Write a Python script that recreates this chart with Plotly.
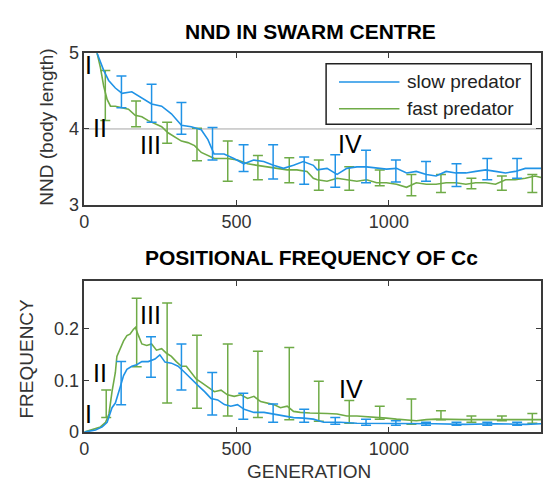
import plotly.graph_objects as go

# ---------------- DATA ----------------
# Top panel: NND in swarm centre
nnd_slow_gen = [10, 42, 64, 80, 102, 124, 156, 189, 221, 254, 286, 319, 351, 384, 406, 426, 459, 491,
                524, 556, 589, 621, 654, 687, 719, 752, 765, 797, 830, 862, 895, 927, 960, 992, 1025,
                1058, 1090, 1123, 1155, 1188, 1220, 1253, 1285, 1318, 1350, 1383, 1415, 1448, 1480, 1500]
nnd_slow = [5.4, 5.0, 4.77, 4.64, 4.54, 4.47, 4.49, 4.41, 4.33, 4.30, 4.20, 4.05, 4.03, 3.99, 3.86, 3.67,
            3.67, 3.61, 3.54, 3.59, 3.57, 3.52, 3.48, 3.52, 3.57, 3.52, 3.46, 3.48, 3.40, 3.48, 3.50,
            3.50, 3.48, 3.47, 3.48, 3.42, 3.44, 3.40, 3.38, 3.44, 3.42, 3.42, 3.44, 3.46, 3.44, 3.42,
            3.44, 3.48, 3.48, 3.48]

nnd_fast_gen = [10, 42, 53, 64, 75, 86, 102, 124, 145, 167, 189, 210, 232, 254, 275, 297, 319, 340, 362,
                384, 405, 427, 449, 470, 503, 536, 568, 601, 633, 666, 698, 731, 752, 765, 797, 830,
                862, 895, 927, 960, 992, 1025, 1058, 1090, 1123, 1155, 1188, 1220, 1253, 1285, 1318,
                1350, 1383, 1415, 1448, 1480, 1500]
nnd_fast = [5.4, 5.0, 4.81, 4.56, 4.39, 4.30, 4.30, 4.28, 4.26, 4.18, 4.16, 4.11, 4.07, 4.03, 3.95, 3.90,
            3.84, 3.82, 3.78, 3.69, 3.65, 3.61, 3.61, 3.61, 3.59, 3.54, 3.52, 3.50, 3.48, 3.46, 3.46,
            3.44, 3.35, 3.33, 3.31, 3.35, 3.33, 3.31, 3.33, 3.29, 3.29, 3.27, 3.23, 3.29, 3.27, 3.27,
            3.29, 3.29, 3.27, 3.29, 3.29, 3.27, 3.33, 3.33, 3.35, 3.38, 3.36]

nnd_slow_err_gen = [122, 221, 319, 421, 523, 620, 722, 824, 925, 1023, 1122, 1222, 1323, 1421]
nnd_slow_err_hi = [4.70, 4.59, 4.35, 4.02, 3.79, 3.79, 3.63, 3.66, 3.72, 3.59, 3.57, 3.54, 3.61, 3.61]
nnd_slow_err_lo = [4.28, 4.09, 3.93, 3.59, 3.44, 3.34, 3.27, 3.23, 3.29, 3.30, 3.31, 3.24, 3.33, 3.35]

nnd_fast_err_gen = [69, 170, 272, 370, 471, 570, 673, 770, 870, 970, 1074, 1171, 1271, 1371, 1471]
nnd_fast_err_hi = [4.77, 4.37, 4.09, 4.01, 3.84, 3.65, 3.62, 3.59, 3.50, 3.46, 3.40, 3.40, 3.35, 3.38, 3.40]
nnd_fast_err_lo = [4.11, 4.03, 3.81, 3.58, 3.31, 3.33, 3.29, 3.19, 3.19, 3.25, 3.12, 3.16, 3.21, 3.19, 3.16]

# Bottom panel: positional frequency of Cc
frq_slow_gen = [0, 10, 37, 59, 75, 91, 102, 118, 129, 140, 156, 172, 189, 210, 232, 248, 265, 286, 308,
                330, 351, 373, 395, 416, 438, 460, 481, 503, 525, 557, 590, 622, 655, 687, 720, 752,
                786, 840, 895, 949, 1003, 1058, 1150, 1250, 1350, 1450, 1500]
frq_slow = [0.0, 0.001, 0.004, 0.010, 0.019, 0.047, 0.056, 0.087, 0.109, 0.121, 0.127, 0.130, 0.136,
            0.136, 0.141, 0.149, 0.135, 0.133, 0.127, 0.115, 0.102, 0.090, 0.078, 0.065, 0.062, 0.053,
            0.050, 0.053, 0.044, 0.038, 0.038, 0.035, 0.031, 0.028, 0.027, 0.025, 0.019, 0.019, 0.017,
            0.017, 0.016, 0.016, 0.016, 0.015, 0.016, 0.015, 0.016]

frq_fast_gen = [0, 10, 37, 53, 70, 81, 91, 97, 102, 107, 118, 129, 140, 150, 161, 168, 178, 189, 205,
                221, 237, 254, 270, 286, 302, 319, 335, 351, 368, 384, 405, 427, 449, 470, 492, 514,
                536, 557, 579, 601, 622, 644, 666, 687, 709, 741, 765, 797, 830, 862, 895, 927, 960,
                992, 1025, 1058, 1090, 1123, 1155, 1250, 1350, 1450, 1500]
frq_fast = [0.0, 0.002, 0.007, 0.010, 0.019, 0.035, 0.078, 0.099, 0.115, 0.146, 0.161, 0.176, 0.186,
            0.189, 0.198, 0.202, 0.186, 0.170, 0.167, 0.170, 0.158, 0.161, 0.152, 0.146, 0.136, 0.127,
            0.127, 0.115, 0.102, 0.096, 0.087, 0.078, 0.081, 0.072, 0.069, 0.072, 0.065, 0.069, 0.059,
            0.056, 0.053, 0.047, 0.050, 0.040, 0.038, 0.037, 0.037, 0.036, 0.035, 0.031, 0.031, 0.030,
            0.028, 0.027, 0.025, 0.024, 0.022, 0.024, 0.025, 0.024, 0.024, 0.023, 0.024]

frq_slow_err_gen = [121, 219, 319, 420, 522, 620, 722, 824, 925, 1023, 1122, 1222, 1323, 1421]
frq_slow_err_hi = [0.136, 0.184, 0.170, 0.115, 0.075, 0.054, 0.044, 0.028, 0.025, 0.022, 0.019, 0.019, 0.019, 0.019]
frq_slow_err_lo = [0.053, 0.106, 0.081, 0.033, 0.025, 0.019, 0.019, 0.015, 0.013, 0.013, 0.013, 0.013, 0.013, 0.013]

frq_fast_err_gen = [72, 172, 272, 370, 471, 570, 673, 770, 870, 970, 1074, 1171, 1271, 1371, 1471]
frq_fast_err_hi = [0.081, 0.258, 0.249, 0.187, 0.170, 0.156, 0.163, 0.098, 0.061, 0.050, 0.064, 0.041, 0.031, 0.031, 0.036]
frq_fast_err_lo = [0.028, 0.126, 0.056, 0.046, 0.031, 0.028, 0.024, 0.021, 0.017, 0.025, 0.015, 0.024, 0.019, 0.022, 0.017]

x_ticks = [0, 500, 1000, 1500]
nnd_ticks = [3, 4, 5]
frq_ticks = [0, 0.1, 0.2]
frq_tick_labels = ["0", "0.1", "0.2"]

series_names = ["slow predator", "fast predator"]
titles = ["NND IN SWARM CENTRE", "POSITIONAL FREQUENCY OF Cc"]

# ---------------- STYLE ----------------
BLUE = "#2093e6"
GREEN = "#6fab47"
AX = "#3a3a3a"
FONT = "Arial, Liberation Sans, sans-serif"
W, H = 560, 492

fig = go.Figure()


def err_trace(gen, hi, lo, color, xa, ya):
    mid = [(a + b) / 2 for a, b in zip(hi, lo)]
    half = [(a - b) / 2 for a, b in zip(hi, lo)]
    return go.Scatter(x=gen, y=mid, mode="markers", marker=dict(size=2, opacity=0, color=color),
                      error_y=dict(type="data", array=half, symmetric=True, color=color,
                                   thickness=1.5, width=5),
                      xaxis=xa, yaxis=ya, showlegend=False, hoverinfo="skip")


def line_trace(gen, val, color, xa, ya, name):
    return go.Scatter(x=gen, y=val, mode="lines", line=dict(color=color, width=1.6),
                      xaxis=xa, yaxis=ya, name=name, showlegend=False)


# top panel (x, y)
fig.add_trace(err_trace(nnd_fast_err_gen, nnd_fast_err_hi, nnd_fast_err_lo, GREEN, "x", "y"))
fig.add_trace(line_trace(nnd_fast_gen, nnd_fast, GREEN, "x", "y", series_names[1]))
fig.add_trace(err_trace(nnd_slow_err_gen, nnd_slow_err_hi, nnd_slow_err_lo, BLUE, "x", "y"))
fig.add_trace(line_trace(nnd_slow_gen, nnd_slow, BLUE, "x", "y", series_names[0]))

# bottom panel (x2, y2)
fig.add_trace(err_trace(frq_fast_err_gen, frq_fast_err_hi, frq_fast_err_lo, GREEN, "x2", "y2"))
fig.add_trace(line_trace(frq_fast_gen, frq_fast, GREEN, "x2", "y2", series_names[1]))
fig.add_trace(err_trace(frq_slow_err_gen, frq_slow_err_hi, frq_slow_err_lo, BLUE, "x2", "y2"))
fig.add_trace(line_trace(frq_slow_gen, frq_slow, BLUE, "x2", "y2", series_names[0]))

xdom = [80 / W, 541 / W]
ydom_top = [1 - 203 / H, 1 - 45 / H]
ydom_bot = [1 - 440 / H, 1 - 282.7 / H]

axis_common = dict(showgrid=False, zeroline=False, showline=True, linecolor=AX, linewidth=1.5,
                   mirror="allticks", ticks="inside", ticklen=5, tickwidth=1.2, tickcolor=AX,
                   tickfont=dict(family=FONT, size=18, color="#333333"))

fig.update_layout(
    width=W, height=H, margin=dict(l=0, r=0, t=0, b=0),
    paper_bgcolor="white", plot_bgcolor="white", showlegend=False,
    xaxis=dict(domain=xdom, range=[0, 1500], tickvals=x_ticks, anchor="y", **axis_common),
    yaxis=dict(domain=ydom_top, range=[3, 5], tickvals=nnd_ticks, anchor="x", **axis_common),
    xaxis2=dict(domain=xdom, range=[0, 1500], tickvals=x_ticks, anchor="y2", **axis_common),
    yaxis2=dict(domain=ydom_bot, range=[0, 0.291], tickvals=frq_ticks, ticktext=frq_tick_labels,
                anchor="x2", **axis_common),
)

# reference line at NND = 4
fig.add_shape(type="line", xref="x", yref="y", x0=0, x1=1500, y0=4, y1=4,
              line=dict(color="#a6a6a6", width=1), layer="below")

# manual legend
lx0, lx1, ly0, ly1 = 324 / W, 531 / W, 1 - 119 / H, 1 - 56 / H
fig.add_shape(type="rect", xref="paper", yref="paper", x0=lx0, x1=lx1, y0=ly0, y1=ly1,
              line=dict(color="#222222", width=1.5), fillcolor="white", layer="above")
for name, color, py in [(series_names[0], BLUE, 75), (series_names[1], GREEN, 103)]:
    yy = 1 - py / H
    fig.add_shape(type="line", xref="paper", yref="paper", x0=337 / W, x1=398 / W, y0=yy, y1=yy,
                  line=dict(color=color, width=1.6), layer="above")
    fig.add_annotation(x=404 / W, y=yy, xref="paper", yref="paper", text=name, showarrow=False,
                       xanchor="left", yanchor="middle",
                       font=dict(family=FONT, size=19, color="#222222"))

# titles
fig.add_annotation(x=308.5 / W, y=1 - 22.5 / H, xref="paper", yref="paper", text="<b>%s</b>" % titles[0],
                   showarrow=False, xanchor="center", yanchor="middle",
                   font=dict(family=FONT, size=21, color="black"))
fig.add_annotation(x=309 / W, y=1 - 258.5 / H, xref="paper", yref="paper", text="<b>%s</b>" % titles[1],
                   showarrow=False, xanchor="center", yanchor="middle",
                   font=dict(family=FONT, size=21, color="black"))

# axis titles
fig.add_annotation(x=41 / W, y=1 - 122 / H, xref="paper", yref="paper", text="NND (body length)",
                   textangle=-90, showarrow=False, xanchor="center", yanchor="middle",
                   font=dict(family=FONT, size=19, color="#333333"))
fig.add_annotation(x=22 / W, y=1 - 363.5 / H, xref="paper", yref="paper", text="FREQUENCY",
                   textangle=-90, showarrow=False, xanchor="center", yanchor="middle",
                   font=dict(family=FONT, size=19, color="#333333"))
fig.add_annotation(x=307 / W, y=1 - 481 / H, xref="paper", yref="paper", text="GENERATION",
                   showarrow=False, xanchor="center", yanchor="middle",
                   font=dict(family=FONT, size=19, color="#333333"))

# phase labels
phase_top = [("I", 13, 4.84), ("II", 51, 4.01), ("III", 217, 3.79), ("IV", 874, 3.80)]
phase_bot = [("I", 13, 0.0355), ("II", 51, 0.114), ("III", 216, 0.2265), ("IV", 875, 0.0828)]
for txt, gx, gy in phase_top:
    fig.add_annotation(x=gx, y=gy, xref="x", yref="y", text=txt, showarrow=False,
                       xanchor="center", yanchor="middle", font=dict(family=FONT, size=25, color="black"))
for txt, gx, gy in phase_bot:
    fig.add_annotation(x=gx, y=gy, xref="x2", yref="y2", text=txt, showarrow=False,
                       xanchor="center", yanchor="middle", font=dict(family=FONT, size=25, color="black"))

fig.write_html("out.html")
